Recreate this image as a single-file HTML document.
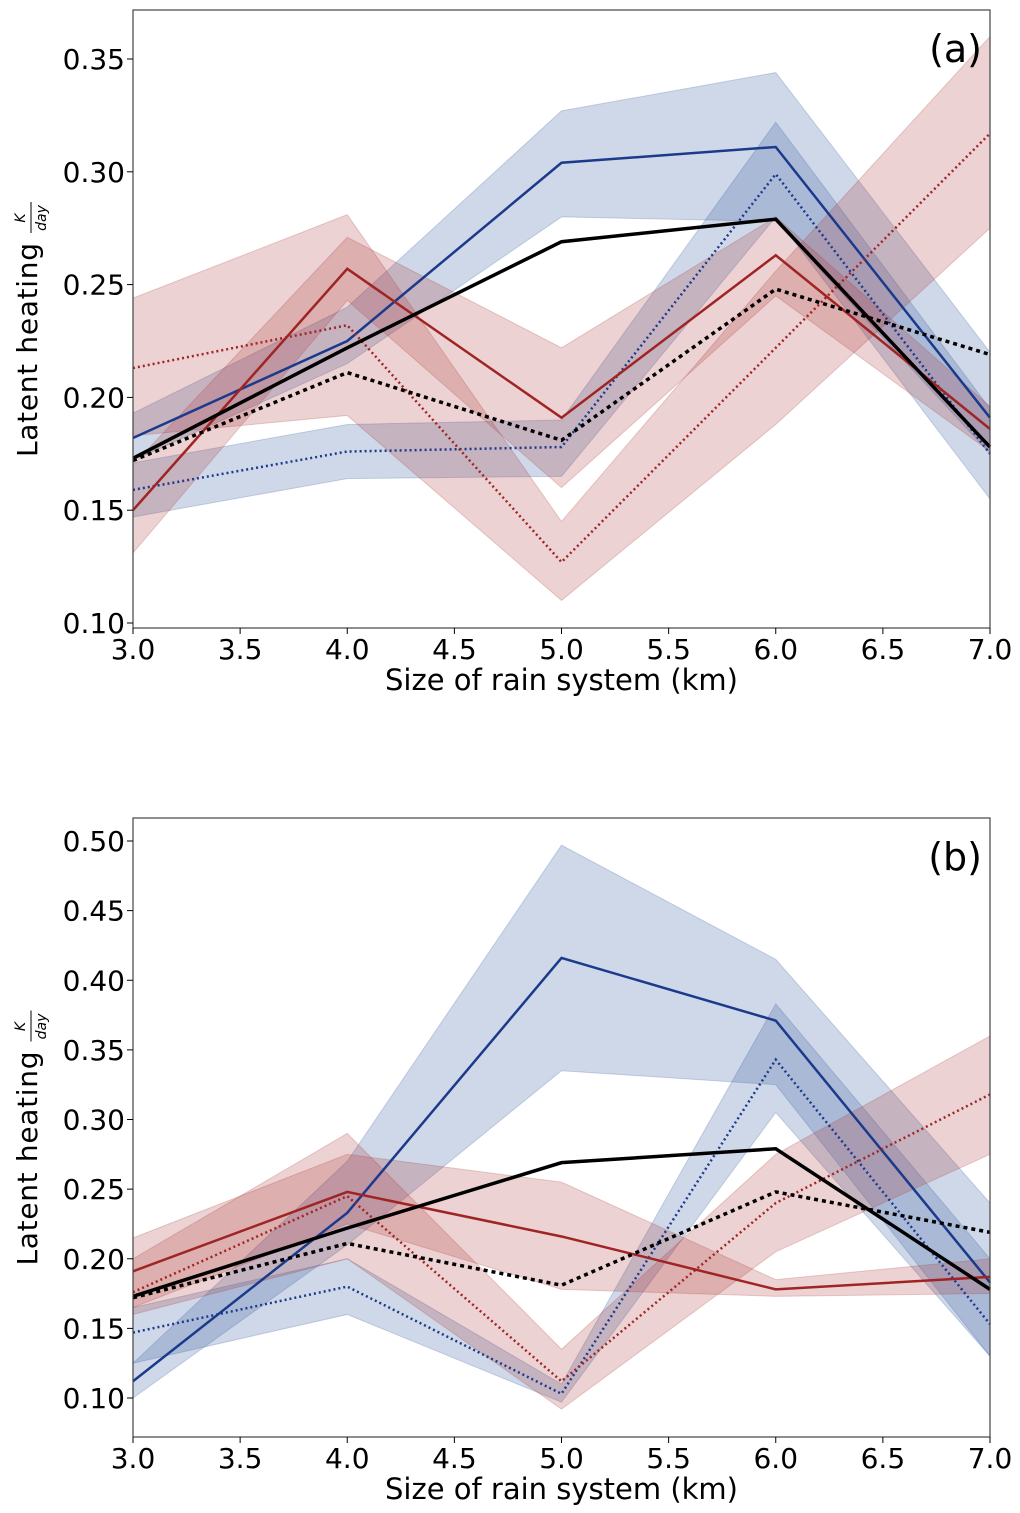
<!DOCTYPE html>
<html><head><meta charset="utf-8"><style>
body{margin:0;background:#fff;}
svg{display:block;font-family:"DejaVu Sans","Liberation Sans",sans-serif;}
</style></head><body>
<svg id="fig" width="1020" height="1513" viewBox="0 0 1020 1513"></svg>
<script>
const xs=[3,4,5,6,7];
const xTicks=[3.0,3.5,4.0,4.5,5.0,5.5,6.0,6.5,7.0];
const aTicks=[0.10,0.15,0.20,0.25,0.30,0.35];
const bTicks=[0.10,0.15,0.20,0.25,0.30,0.35,0.40,0.45,0.50];
// panel a
const aBlueSolid=[0.182,0.225,0.304,0.311,0.191];
const aBlueSolidLo=[0.172,0.215,0.280,0.278,0.175];
const aBlueSolidHi=[0.193,0.240,0.327,0.344,0.220];
const aBlueDot=[0.159,0.176,0.178,0.299,0.175];
const aBlueDotLo=[0.147,0.164,0.165,0.280,0.155];
const aBlueDotHi=[0.171,0.188,0.190,0.322,0.195];
const aRedSolid=[0.150,0.257,0.191,0.263,0.186];
const aRedSolidLo=[0.131,0.243,0.160,0.245,0.176];
const aRedSolidHi=[0.170,0.271,0.222,0.280,0.196];
const aRedDot=[0.213,0.232,0.127,0.222,0.317];
const aRedDotLo=[0.183,0.192,0.110,0.188,0.275];
const aRedDotHi=[0.244,0.281,0.145,0.256,0.360];
const blackSolid=[0.173,0.222,0.269,0.279,0.178];
const blackDot=[0.172,0.211,0.181,0.248,0.219];
// panel b
const bBlueSolid=[0.112,0.233,0.416,0.371,0.183];
const bBlueSolidLo=[0.100,0.210,0.335,0.325,0.130];
const bBlueSolidHi=[0.125,0.270,0.497,0.415,0.240];
const bBlueDot=[0.147,0.180,0.103,0.343,0.153];
const bBlueDotLo=[0.125,0.160,0.097,0.305,0.130];
const bBlueDotHi=[0.165,0.200,0.110,0.383,0.200];
const bRedSolid=[0.191,0.248,0.216,0.178,0.187];
const bRedSolidLo=[0.165,0.225,0.178,0.173,0.175];
const bRedSolidHi=[0.215,0.275,0.255,0.185,0.200];
const bRedDot=[0.176,0.245,0.112,0.240,0.318];
const bRedDotLo=[0.160,0.200,0.092,0.205,0.275];
const bRedDotHi=[0.200,0.290,0.135,0.275,0.360];

const NS="http://www.w3.org/2000/svg";
const svg=document.getElementById('fig');
function mk(t,a,p){const e=document.createElementNS(NS,t);for(const k in a)e.setAttribute(k,a[k]);(p||svg).appendChild(e);return e;}
const BLUE="#1b3a8c",RED="#a02424",BFILL="rgba(55,90,160,0.24)",RFILL="rgba(170,50,50,0.22)";

function panel(id,top,bot,v0y,v1y,v0,v1,ticks,label,series){
  const L=133,R=990;
  const X=x=>L+(x-3)/4*(R-L);
  const Y=v=>v0y+(v-v0)/(v1-v0)*(v1y-v0y);
  const g=mk('g',{});
  
  
  series.forEach(s=>{
    if(s.lo){
      const pts=xs.map((x,i)=>X(x)+','+Y(s.hi[i])).concat(xs.slice().reverse().map((x,j)=>{const i=xs.length-1-j;return X(x)+','+Y(s.lo[i]);}));
      const p=mk('polygon',{points:pts.join(' '),fill:s.fill,stroke:s.fill},g);
      
      
    }
  });
  series.forEach(s=>{
    const l=mk('polyline',{points:xs.map((x,i)=>X(x)+','+Y(s.v[i])).join(' '),fill:'none',stroke:s.c,'stroke-width':s.w,'stroke-dasharray':s.d||'none'},g);
    
    
  });
  const fr=mk('rect',{x:L,y:top,width:R-L,height:bot-top,fill:'none',stroke:'#444','stroke-width':1.2},g);
  
  
  xTicks.forEach(t=>{
    mk('line',{x1:X(t),x2:X(t),y1:bot,y2:bot+6,stroke:'#000'},g);
    const tx=mk('text',{x:X(t),y:bot+31,'text-anchor':'middle','font-size':28},g);
    tx.textContent=t.toFixed(1);
    
    
  });
  ticks.forEach(t=>{
    mk('line',{x1:L-6,x2:L,y1:Y(t),y2:Y(t),stroke:'#000'},g);
    const ty=mk('text',{x:L-8,y:Y(t)+10,'text-anchor':'end','font-size':28},g);
    ty.textContent=t.toFixed(2);
    
    
  });
  const xt=mk('text',{x:(L+R)/2,y:bot+62,'text-anchor':'middle','font-size':29},g);
  xt.textContent='Size of rain system (km)';
  
  
  const cy=(top+bot)/2+11;
  const yt=mk('g',{transform:'translate(37,'+cy+') rotate(-90)'},g);
  
  
  const t1=mk('text',{x:-127,y:0,'text-anchor':'start','font-size':28,textLength:214},yt);t1.textContent='Latent heating';
  const t2=mk('text',{x:112,y:-12,'text-anchor':'middle','font-size':14,'font-style':'italic'},yt);t2.textContent='K';
  mk('line',{x1:97,x2:128,y1:-6,y2:-6,stroke:'#000','stroke-width':1},yt);
  const t3=mk('text',{x:112,y:9,'text-anchor':'middle','font-size':14,'font-style':'italic'},yt);t3.textContent='day';
  const pl=mk('text',{x:982,y:top+52,'text-anchor':'end','font-size':38},g);
  pl.textContent=label;
  
  
}
panel('a',10,628,623,59,0.10,0.35,aTicks,'(a)',[
 {name:'blue-solid',v:aBlueSolid,lo:aBlueSolidLo,hi:aBlueSolidHi,c:BLUE,fill:BFILL,w:2.5},
 {name:'blue-dotted',v:aBlueDot,lo:aBlueDotLo,hi:aBlueDotHi,c:BLUE,fill:BFILL,w:2.5,d:'2,3'},
 {name:'red-solid',v:aRedSolid,lo:aRedSolidLo,hi:aRedSolidHi,c:RED,fill:RFILL,w:2.5},
 {name:'red-dotted',v:aRedDot,lo:aRedDotLo,hi:aRedDotHi,c:RED,fill:RFILL,w:2.5,d:'2,3'},
 {name:'black-solid',v:blackSolid,c:'#000',w:3.5},
 {name:'black-dotted',v:blackDot,c:'#000',w:3.5,d:'4,4'}
]);
panel('b',818,1437,1398,841,0.10,0.50,bTicks,'(b)',[
 {name:'blue-solid',v:bBlueSolid,lo:bBlueSolidLo,hi:bBlueSolidHi,c:BLUE,fill:BFILL,w:2.5},
 {name:'blue-dotted',v:bBlueDot,lo:bBlueDotLo,hi:bBlueDotHi,c:BLUE,fill:BFILL,w:2.5,d:'2,3'},
 {name:'red-solid',v:bRedSolid,lo:bRedSolidLo,hi:bRedSolidHi,c:RED,fill:RFILL,w:2.5},
 {name:'red-dotted',v:bRedDot,lo:bRedDotLo,hi:bRedDotHi,c:RED,fill:RFILL,w:2.5,d:'2,3'},
 {name:'black-solid',v:blackSolid,c:'#000',w:3.5},
 {name:'black-dotted',v:blackDot,c:'#000',w:3.5,d:'4,4'}
]);
</script>
</body></html>
